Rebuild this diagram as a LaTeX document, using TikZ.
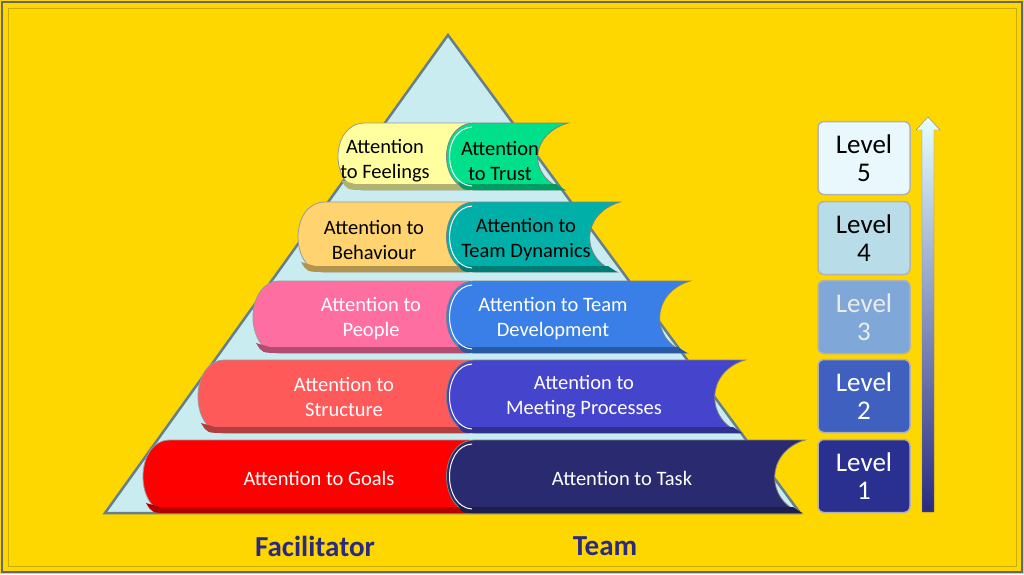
\documentclass[tikz,border=0pt]{standalone}
\usepackage{fontspec}
\setmainfont{Carlito}
\begin{document}
\begin{tikzpicture}[x=1pt,y=-1pt,
  lbar/.style={draw=black!40,line width=0.8pt},
  rbar/.style={draw=black!50,line width=0.8pt},
  txt/.style={align=center,font=\fontsize{20.5}{25}\selectfont},
  lvl/.style={draw=gray!60,line width=1.5pt,rounded corners=6pt,minimum width=92pt,minimum height=73pt,align=center,font=\fontsize{27}{28}\selectfont}]
\definecolor{bg}{HTML}{FFD700}
\definecolor{navy}{HTML}{2A2A80}
\useasboundingbox (0,0) rectangle (1024,574);
\fill[bg] (0,0) rectangle (1024,574);
\draw[black!60,line width=1.5pt] (2,2) rectangle (1022,572);
\draw[bg!80!black,line width=1pt] (8,8) rectangle (1016,566);
% pyramid
\node[coordinate] (apex) at (448,35) {};
\node[coordinate] (bl) at (105,513) {};
\node[coordinate] (br) at (800,513) {};
\filldraw[fill={rgb,255:red,200;green,236;blue,240},draw=gray!60!cyan!70!black,line width=2.5pt] (apex) -- (bl) -- (br) -- cycle;
\foreach \t/\b/\xl/\xr/\cl/\cr in {
  440/513/140/805/FF0000/2A2A70,
  360/433/195/745/FF5A5A/4444CC,
  281/353/250/690/FF6EA0/3A7FE8,
  202/272/295/620/FFD470/00B0A8,
  123/190/335/568/FFFFA0/00E08A}{
  \definecolor{cl}{HTML}{\cl}\definecolor{cr}{HTML}{\cr}
  \filldraw[lbar,fill=cl] (\xl+30,\t) -- (470,\t) -- (470,\b) -- (\xl+30,\b)
     .. controls (\xl-6,\b) and (\xl-6,\t) .. cycle;
  \fill[cl!70!black] (\xl+20,\b-6) -- (470,\b-6) -- (470,\b) -- (\xl+30,\b) .. controls (\xl+12,\b) .. (\xl+6,\b-10) -- cycle;
  \filldraw[rbar,fill=cr] (475,\t) -- (\xr,\t)
     .. controls (\xr-40,\t+12) and (\xr-40,\b-12) .. (\xr-3,\b)
     -- (475,\b) .. controls (437,\b) and (437,\t) .. cycle;
  \fill[cr!70!black] (470,\b-6) -- (\xr-12,\b-6) .. controls (\xr-8,\b-3) .. (\xr-3,\b) -- (475,\b) .. controls (462,\b) .. (458,\b-8) -- cycle;
  \draw[white,line width=1pt] (472,\t+4) .. controls (442,\t+6) and (442,\b-6) .. (472,\b-4);
}
\node[txt,white] (g) at (319,478) {Attention to Goals};
\node[txt,white] (k) at (622,478) {Attention to Task};
\node[txt,white] (s) at (344,397) {Attention to\\Structure};
\node[txt,white] (m) at (584,397) {Attention to\\Meeting Processes};
\node[txt,white] (p) at (371,319) {Attention to\\People};
\node[txt,white] (d) at (553,319) {Attention to Team\\Development};
\node[txt,black] (be) at (374,240) {Attention to\\Behaviour};
\node[txt,black] (td) at (526,240) {Attention to\\Team Dynamics};
\node[txt,black] (f) at (385,161) {Attention\\to Feelings};
\node[txt,black] (tr) at (500,161) {Attention\\to Trust};
% levels
\node[lvl,fill={rgb,255:red,232;green,248;blue,252},text=black] (l5) at (864,158) {Level\\5};
\node[lvl,fill={rgb,255:red,184;green,220;blue,232},text=black] (l4) at (864,238) {Level\\4};
\node[lvl,fill={rgb,255:red,127;green,168;blue,216},text=white!85!gray] (l3) at (864,317) {Level\\3};
\node[lvl,fill={rgb,255:red,64;green,96;blue,192},text=white] (l2) at (864,396) {Level\\2};
\node[lvl,fill={rgb,255:red,42;green,48;blue,144},text=white] (l1) at (864,476) {Level\\1};
% arrow
\shade[bottom color=navy,top color=cyan!10!white,draw=gray] (922,512) -- (934,512) -- (934,130) -- (940,130) -- (928,117) -- (916,130) -- (922,130) -- cycle;
\node[font=\bfseries\fontsize{29}{32}\selectfont,text=navy] (fa) at (315,546) {Facilitator};
\node[font=\bfseries\fontsize{29}{32}\selectfont,text=navy] (te) at (605,546) {Team};
\end{tikzpicture}
\end{document}
